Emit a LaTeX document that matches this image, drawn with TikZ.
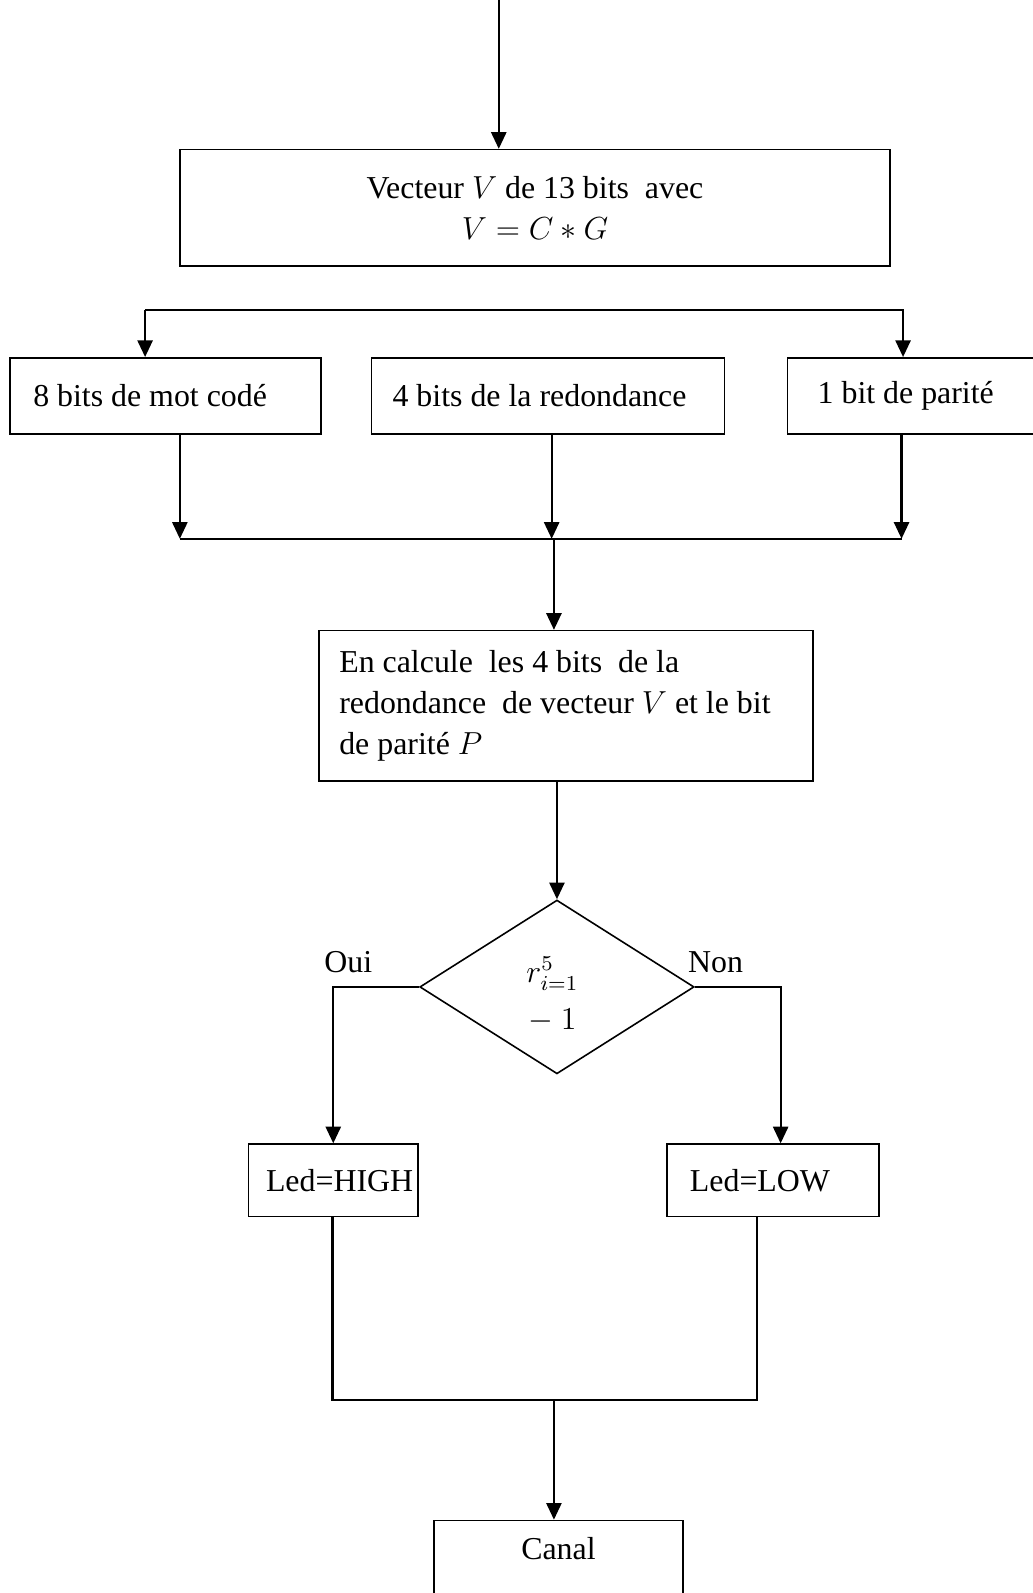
\documentclass[tikz,border=0pt]{standalone}
\usepackage{fontspec}
\setmainfont{Liberation Serif}
\usetikzlibrary{shapes.geometric,arrows.meta}

\begin{document}
\begin{tikzpicture}[
	txt/.style={font=\fontsize{12}{15.6}\selectfont},
	box/.style={txt, draw, rectangle, line width=0.6pt, inner ysep=0pt, align=flush left},
	losange/.style={draw, diamond, aspect=1.58, inner sep=0pt, line width=0.6pt},
	fleche/.style={line width=0.8pt, -{Triangle[length=2.2mm,width=2mm]}},
	trait/.style={line width=0.8pt}]
	\useasboundingbox (0,0) rectangle (13.66,-21.08);

	% les blocs
	\node[box, align=center, minimum width=9.40cm, minimum height=1.54cm] (V) at (7.08,-2.75) {Vecteur $V$ de 13 bits\ \ avec\\ $V=C\ast G$};
	\node[box, text width=3.50cm, inner xsep=0.31cm, minimum height=1.01cm] (mot) at (2.19,-5.24) {8 bits de mot cod\'e};
	\node[box, text width=4.11cm, inner xsep=0.28cm, minimum height=1.01cm] (red) at (7.25,-5.24) {4 bits de la redondance};
	\node[box, text width=2.80cm, inner xsep=0.40cm, minimum height=1.01cm] (par) at (12.22,-5.24) {1 bit de parit\'e};
	\node[box, text width=6.00cm, inner xsep=0.27cm, minimum height=1.99cm] (calc) at (7.49,-9.34) {En calcule\ \ les 4 bits\ \ de la\\ redondance\ \ de vecteur $V$ et le bit\\ de parit\'e $P$};
	\node[losange, minimum width=3.63cm, minimum height=2.30cm] (test) at (7.37,-13.06) {};
	\node[txt, align=center] (cond) at (7.31,-13.16) {$r^{5}_{i=1}$\\[2pt]$-\ 1$};
	\node[txt] (oui) at (4.61,-12.73) {Oui};
	\node[txt] (non) at (9.47,-12.73) {Non};
	\node[box, text width=1.78cm, inner xsep=0.23cm, minimum height=0.96cm] (high) at (4.41,-15.62) {Led=HIGH};
	\node[box, text width=2.20cm, inner xsep=0.30cm, minimum height=0.96cm] (low) at (10.23,-15.62) {Led=LOW};
	\node[box, align=center, minimum width=3.29cm, minimum height=1.0cm, text depth=0.25cm] (canal) at (7.39,-20.62) {Canal};

	% points de passage
	\coordinate (in) at (6.60,0);
	\coordinate (s1) at (1.92,-4.10);
	\coordinate (s2) at (11.95,-4.10);
	\coordinate (j1) at (2.38,-7.13);
	\coordinate (j2) at (7.30,-7.13);
	\coordinate (j3) at (11.93,-7.13);
	\coordinate (jm) at (7.33,-7.13);
	\coordinate (b1) at (4.40,-18.53);
	\coordinate (b2) at (10.02,-18.53);
	\coordinate (bm) at (7.33,-18.53);

	% les liaisons
	\draw[fleche] (in) -- (in |- V.north);
	\draw[fleche] (s1) -- (s1 |- mot.north);
	\draw[fleche] (s1) -- (s2) -- (s2 |- par.north);
	\draw[fleche] (mot.south -| j1) -- (j1);
	\draw[fleche] (red.south -| j2) -- (j2);
	\draw[fleche] (par.south -| j3) -- (j3);
	\draw[trait] (j1) -- (j3);
	\draw[fleche] (jm) -- (jm |- calc.north);
	\draw[fleche] (calc.south -| test.north) -- (test.north);
	\draw[fleche] (test.west) -| (high.north);
	\draw[fleche] (test.east) -| ([xshift=1mm]low.north);
	\draw[trait] (high.south -| b1) -- (b1) -- (b2) -- (low.south -| b2);
	\draw[fleche] (bm) -- (bm |- canal.north);
\end{tikzpicture}
\end{document}
